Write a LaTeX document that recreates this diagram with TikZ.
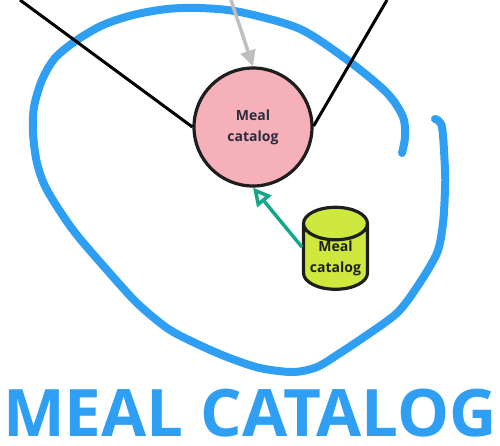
\documentclass[tikz,border=0pt]{standalone}
\usepackage{xcolor}
\usepackage{fontspec}
\setmainfont{Open Sans}
\usetikzlibrary{arrows.meta, positioning, shapes.geometric}
\definecolor{blobblue}{HTML}{2F9FF3}
\definecolor{aggpink}{HTML}{F5B0BA}
\definecolor{dblime}{HTML}{CFE83D}
\definecolor{eventgreen}{HTML}{14A88A}
\definecolor{inkdark}{HTML}{1E1E1E}
\definecolor{inknavy}{HTML}{2A2D3E}
\tikzset{
    aggregate/.style={circle, draw=inkdark, line width=3.2pt, fill=aggpink, minimum size=118pt, inner sep=0pt, align=center, font=\bfseries\fontsize{14}{21}\selectfont, text=inknavy},
    database/.style={cylinder, shape border rotate=90, aspect=0.65, draw=inkdark, line width=3.2pt, fill=dblime, minimum height=82pt, minimum width=64pt, inner sep=0pt},
    dbtext/.style={inner sep=0pt, align=center, font=\bfseries\fontsize{14}{21}\selectfont, text=inkdark},
    blobline/.style={draw=blobblue, line width=8pt, line cap=round, line join=round},
    plainarrow/.style={black, line width=3pt},
    grayarrow/.style={draw=black!25, line width=3.5pt, -{Triangle[length=16pt, width=15pt, fill=black!25]}},
    greenarrow/.style={draw=eventgreen, line width=3.5pt, -{Triangle[open, length=18pt, width=18pt, fill=black!5]}},
}
\begin{document}
\begin{tikzpicture}[x=1pt, y=-1pt]
    \useasboundingbox (0,0) rectangle (500,445);
    % Boundary
    \draw[blobline] plot[smooth, tension=0.5] coordinates {
        (402,153) (405,137) (403,117) (387,93) (350,62) (300,29) (240,12) (200,8) (167,9)
        (133,15) (103,25) (77,40) (55,58) (42,80) (34,107) (33,133) (37,163) (47,190)
        (73,230) (107,270) (137,303) (167,328) (193,342) (227,357) (260,368) (293,372)
        (317,367) (340,353) (367,335) (397,313) (417,287) (437,253) (443,223) (445,190)
        (445,170) (442,127) (435,119)};
    % Nodes
    \node[aggregate] (catalog) at (253,127) {Meal\\catalog};
    \node[database] (store) at (335.5,257.2) {\rule{0pt}{1pt}\rule{50pt}{0pt}};
    \node[dbtext] (storetext) at (335.5,258.5) {Meal\\catalog};
    \coordinate (inleft) at (20,0);
    \coordinate (inright) at (387,0);
    \coordinate (intop) at (231,0);
    % Connectors
    \draw[plainarrow] (inleft) -- (catalog.west |- 0,127);
    \draw[plainarrow] (inright) -- (catalog.east |- 0,126);
    \draw[grayarrow] (intop) -- (catalog.north);
    \draw[greenarrow] (store.west |- 0,247) -- (catalog.south);
    % Title
    \node[text=blobblue, font=\bfseries\fontsize{65.5}{65.5}\selectfont, inner sep=0pt, anchor=base] (title) at (250,436) {MEAL CATALOG};
\end{tikzpicture}
\end{document}
